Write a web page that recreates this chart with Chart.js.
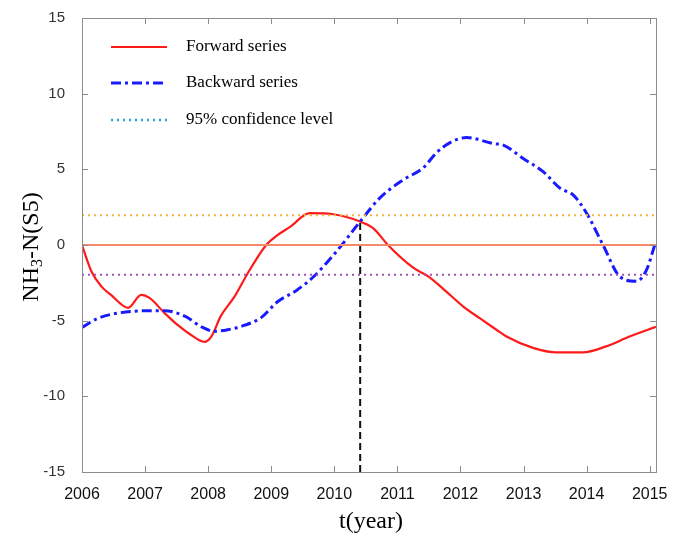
<!DOCTYPE html>
<html>
<head>
<meta charset="utf-8">
<script src="https://cdn.jsdelivr.net/npm/chart.js@4"></script>
<style>
  html, body { margin: 0; padding: 0; background: #fff; }
  #wrap { width: 683px; height: 535px; }
</style>
</head>
<body>
<div id="wrap"><canvas id="mkChart" width="683" height="535"></canvas></div>
<script>
// ---- data ----
const yearTicks = [2006, 2007, 2008, 2009, 2010, 2011, 2012, 2013, 2014, 2015];
const valueTicks = [-15, -10, -5, 0, 5, 10, 15];

// forward series UF
const forwardYears = [2006.0, 2006.15, 2006.31, 2006.46, 2006.73, 2006.94, 2007.07, 2007.31, 2007.52, 2007.73,
    2007.94, 2008.05, 2008.2, 2008.42, 2008.63, 2008.92, 2009.1, 2009.3, 2009.61, 2009.98,
    2010.41, 2010.62, 2010.85, 2011.25, 2011.5, 2011.7, 2012.04, 2012.31, 2012.57, 2012.73,
    2013.15, 2013.52, 2013.94, 2014.31, 2014.68, 2015.1];
const forwardValues = [0, -1.75, -2.75, -3.3, -4.15, -3.3, -3.5, -4.5, -5.3, -5.95,
    -6.4, -6.05, -4.7, -3.4, -1.85, 0, 0.66, 1.2, 2.1, 2.03,
    1.55, 1.1, 0, -1.5, -2.1, -2.8, -4.05, -4.85, -5.6, -6.05,
    -6.8, -7.1, -7.1, -6.7, -6.05, -5.4];

// backward series UB
const backwardYears = [2006.0, 2006.25, 2006.57, 2006.99, 2007.31, 2007.63, 2007.89, 2008.1, 2008.31, 2008.58,
    2008.84, 2009.1, 2009.4, 2009.67, 2010.04, 2010.41, 2010.72, 2011.09, 2011.41, 2011.62,
    2011.85, 2012.1, 2012.52, 2012.68, 2013.0, 2013.31, 2013.58, 2013.79, 2014.0, 2014.26,
    2014.53, 2014.79, 2014.95, 2015.08];
const backwardValues = [-5.45, -4.85, -4.5, -4.35, -4.35, -4.7, -5.4, -5.7, -5.6, -5.3,
    -4.8, -3.75, -3.0, -2.1, -0.4, 1.55, 3.1, 4.3, 5.1, 6.1,
    6.8, 7.1, 6.7, 6.6, 5.7, 4.85, 3.75, 3.3, 2.1, 0,
    -2.1, -2.4, -1.65, 0];

const confidence = 1.96;
const crossYear = 2010.41;
const crossValue = 1.55;
const xMin = 2006, xMax = 2015.1;

const legendLabels = ['Forward series', 'Backward series', '95% confidence level'];

// ---- helpers ----
function toPoints(xs, ys) {
    return xs.map((x, i) => ({ x: x, y: ys[i] }));
}

const SERIF = '"Liberation Serif", "Times New Roman", serif';
const SANS = '"Liberation Sans", Arial, sans-serif';

// box, inward ticks, titles and legend (matlab look)
const framePlugin = {
    id: 'frame',
    afterDraw(chart) {
        const ctx = chart.ctx;
        const a = chart.chartArea;
        const xs = chart.scales.x, ys = chart.scales.y;
        ctx.save();
        ctx.strokeStyle = '#8c8c8c';
        ctx.lineWidth = 1;
        ctx.setLineDash([]);
        ctx.strokeRect(a.left + 0.5, a.top + 0.5, a.right - a.left, a.bottom - a.top);
        ctx.beginPath();
        yearTicks.forEach(v => {
            const px = Math.round(xs.getPixelForValue(v)) + 0.5;
            ctx.moveTo(px, a.bottom); ctx.lineTo(px, a.bottom - 6);
            ctx.moveTo(px, a.top); ctx.lineTo(px, a.top + 6);
        });
        valueTicks.forEach(v => {
            const py = Math.round(ys.getPixelForValue(v)) + 0.5;
            ctx.moveTo(a.left, py); ctx.lineTo(a.left + 6, py);
            ctx.moveTo(a.right, py); ctx.lineTo(a.right - 6, py);
        });
        ctx.stroke();

        // axis titles
        ctx.fillStyle = '#000';
        ctx.font = '24px ' + SERIF;
        ctx.textAlign = 'center';
        ctx.textBaseline = 'middle';
        ctx.fillText('t(year)', (a.left + a.right) / 2 + 2, 522);

        ctx.save();
        ctx.translate(32, (a.top + a.bottom) / 2 + 2);
        ctx.rotate(-Math.PI / 2);
        const parts = [['NH', 24, 0], ['3', 16, 6], ['-N(S5)', 24, 0]];
        let total = 0;
        parts.forEach(p => { ctx.font = p[1] + 'px ' + SERIF; total += ctx.measureText(p[0]).width; });
        let cx = -total / 2;
        ctx.textAlign = 'left';
        parts.forEach(p => {
            ctx.font = p[1] + 'px ' + SERIF;
            ctx.fillText(p[0], cx, p[2]);
            cx += ctx.measureText(p[0]).width;
        });
        ctx.restore();

        // legend
        const legendStyles = [
            { color: '#ff1a1a', dash: [], width: 2.2 },
            { color: '#1a1aff', dash: [10, 4, 3, 4], width: 3 },
            { color: '#2aa3e6', dash: [2, 4], width: 2.5 }
        ];
        const rowsY = [47, 83, 120];
        ctx.font = '17px ' + SERIF;
        ctx.textAlign = 'left';
        ctx.textBaseline = 'middle';
        legendLabels.forEach((label, i) => {
            const s = legendStyles[i];
            ctx.beginPath();
            ctx.strokeStyle = s.color;
            ctx.lineWidth = s.width;
            ctx.setLineDash(s.dash);
            ctx.moveTo(111, rowsY[i]);
            ctx.lineTo(167, rowsY[i]);
            ctx.stroke();
            ctx.fillStyle = '#000';
            ctx.fillText(label, 186, rowsY[i]);
        });
        ctx.restore();
    }
};

const ctx = document.getElementById('mkChart');
new Chart(ctx, {
    type: 'line',
    data: {
        datasets: [
            {
                label: 'zero',
                data: toPoints([xMin, xMax], [0, 0]),
                borderColor: '#f58a6a',
                borderWidth: 2,
                pointRadius: 0
            },
            {
                label: 'upper',
                data: toPoints([xMin, xMax], [confidence, confidence]),
                borderColor: '#f2b342',
                borderWidth: 2,
                borderDash: [2, 4],
                pointRadius: 0
            },
            {
                label: 'lower',
                data: toPoints([xMin, xMax], [-confidence, -confidence]),
                borderColor: '#a050b8',
                borderWidth: 2,
                borderDash: [2, 4],
                pointRadius: 0
            },
            {
                label: 'mutation',
                data: toPoints([crossYear, crossYear], [-15, crossValue]),
                borderColor: '#111',
                borderWidth: 2,
                borderDash: [7, 4],
                pointRadius: 0
            },
            {
                label: legendLabels[1],
                data: toPoints(backwardYears, backwardValues),
                borderColor: '#1a1aff',
                borderWidth: 3,
                borderDash: [10, 4, 3, 4],
                pointRadius: 0,
                cubicInterpolationMode: 'monotone'
            },
            {
                label: legendLabels[0],
                data: toPoints(forwardYears, forwardValues),
                borderColor: '#ff1a1a',
                borderWidth: 2.2,
                pointRadius: 0,
                cubicInterpolationMode: 'monotone'
            }
        ]
    },
    options: {
        responsive: false,
        animation: false,
        layout: { padding: { left: 0, top: 18, right: 27, bottom: 0 } },
        plugins: {
            legend: { display: false },
            tooltip: { enabled: false }
        },
        scales: {
            x: {
                type: 'linear',
                min: xMin,
                max: xMax,
                afterBuildTicks: axis => { axis.ticks = yearTicks.map(v => ({ value: v })); },
                afterFit: axis => { axis.height = 63; },
                grid: { display: false },
                border: { display: false },
                ticks: {
                    padding: 5,
                    maxRotation: 0,
                    autoSkip: false,
                    color: '#111',
                    font: { family: SANS, size: 16 },
                    callback: v => String(v)
                }
            },
            y: {
                min: -15,
                max: 15,
                afterBuildTicks: axis => { axis.ticks = valueTicks.map(v => ({ value: v })); },
                afterFit: axis => { axis.width = 82; },
                grid: { display: false },
                border: { display: false },
                ticks: {
                    padding: 9,
                    color: '#333',
                    font: { family: SANS, size: 15 }
                }
            }
        }
    },
    plugins: [framePlugin]
});
</script>
</body>
</html>
